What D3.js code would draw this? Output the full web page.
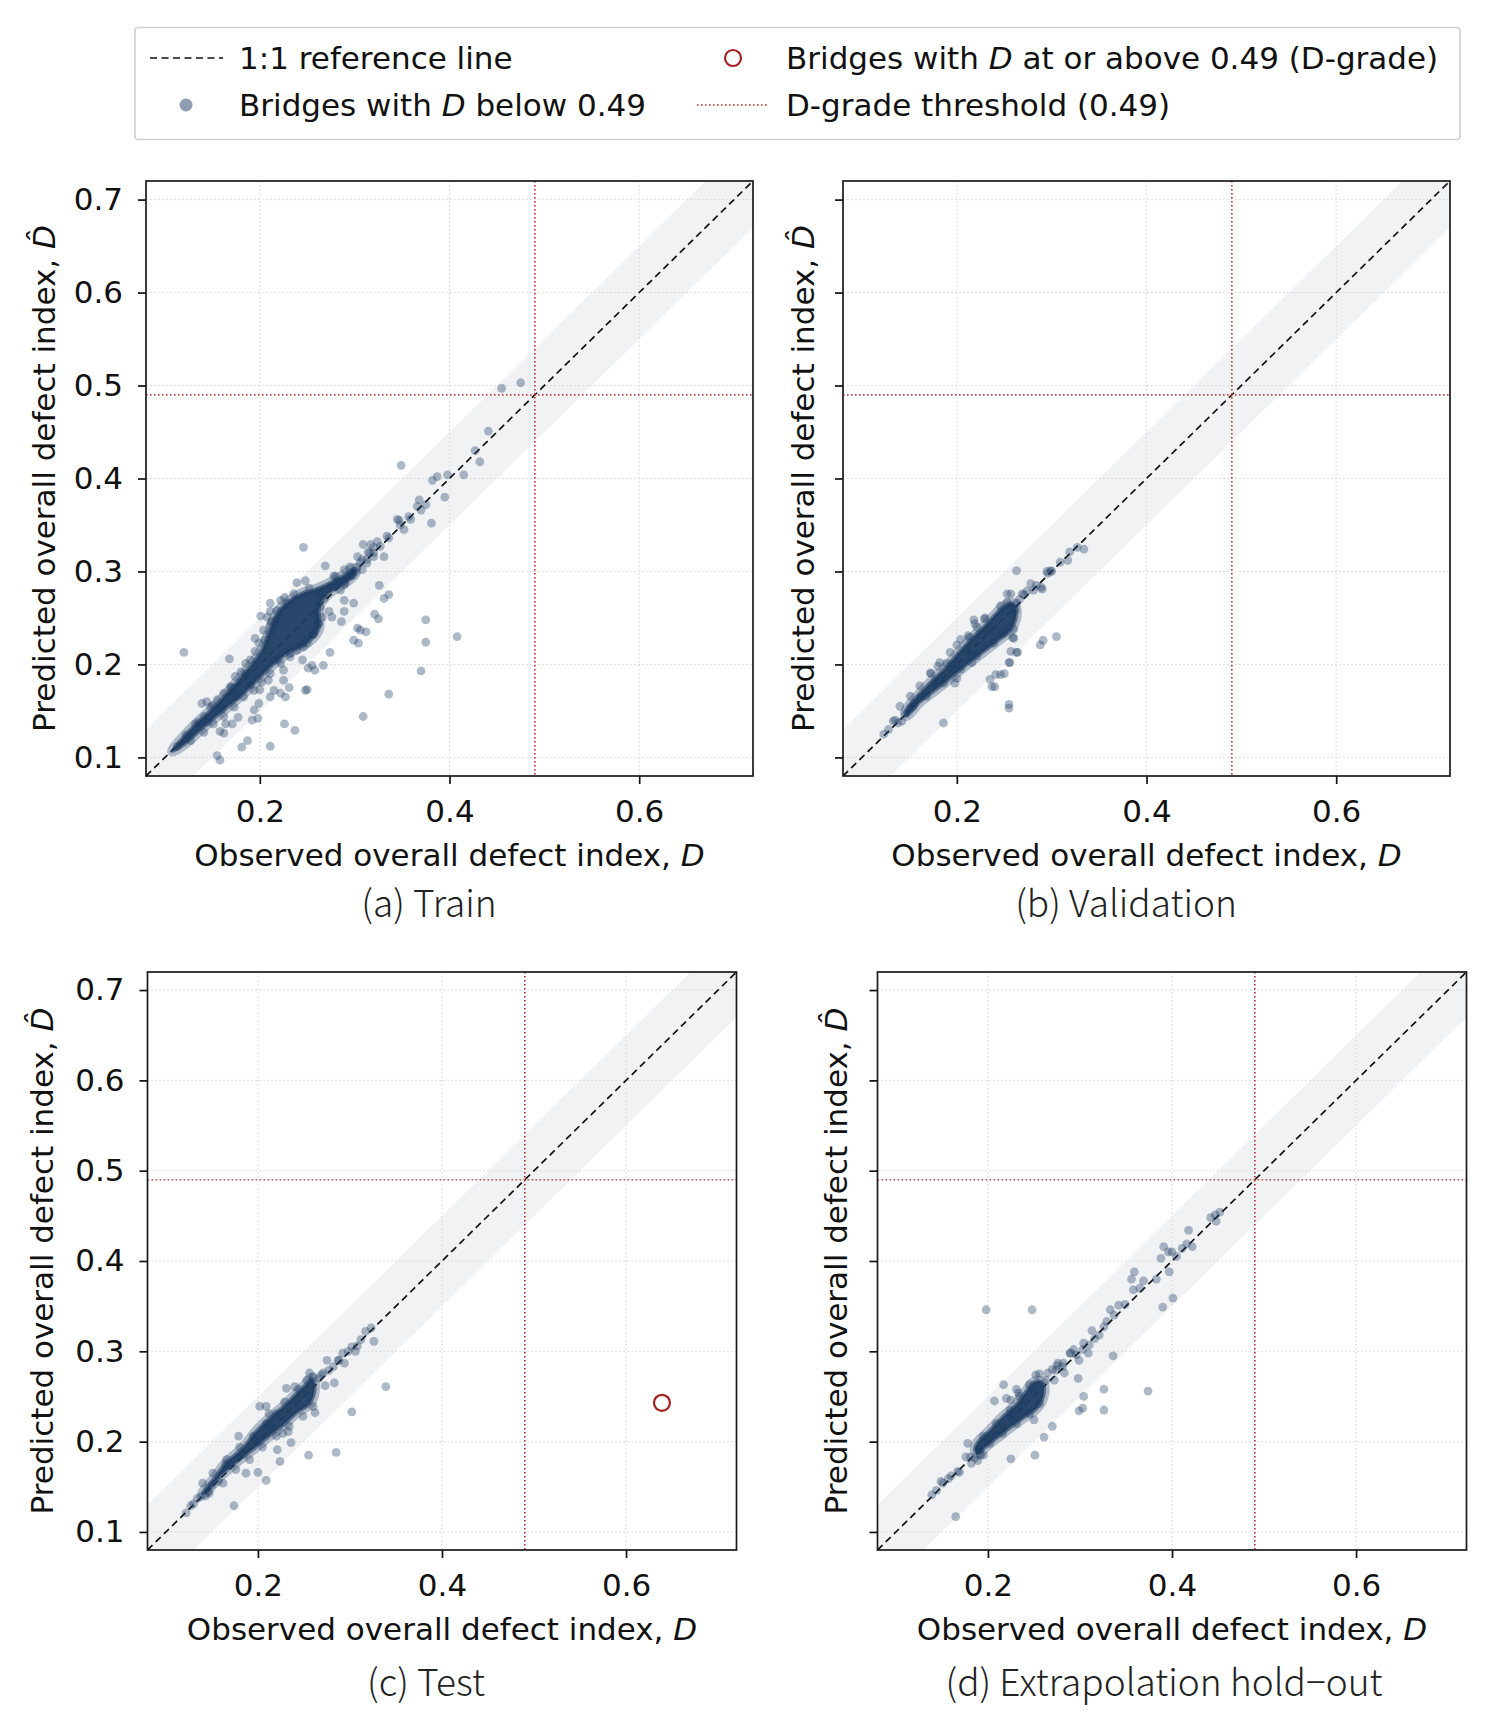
<!DOCTYPE html>
<html>
<head>
<meta charset="utf-8">
<script src="https://cdn.jsdelivr.net/npm/d3@7"></script>
<style>
  body { margin: 0; background: #fff; }
  svg { display: block; }
</style>
</head>
<body>
<svg id="chart" width="1486" height="1721"></svg>
<script>
// ---- data ----------------------------------------------------------
var axisLimits = [0.08, 0.72];
var xTicks = [0.2, 0.4, 0.6];
var yTicks = [0.1, 0.2, 0.3, 0.4, 0.5, 0.6, 0.7];
var threshold = 0.49;        // D-grade threshold
var bandHalfWidth = 0.05;    // shaded tolerance band round the 1:1 line
var panelTitles = ["(a) Train", "(b) Validation", "(c) Test", "(d) Extrapolation hold\u2212out"];

// [observed D, predicted D-hat], individual bridges that can be told apart
var trainPts = [
  [0.455,0.497],[0.475,0.503],[0.441,0.451],[0.427,0.430],[0.432,0.418],[0.415,0.404],
  [0.398,0.404],[0.387,0.402],[0.382,0.398],[0.395,0.380],[0.381,0.352],[0.349,0.414],
  [0.370,0.366],[0.375,0.372],[0.366,0.370],[0.347,0.355],[0.336,0.336],[0.324,0.332],
  [0.320,0.326],[0.314,0.321],[0.308,0.313],[0.345,0.356],[0.352,0.345],[0.357,0.359],
  [0.368,0.377],[0.359,0.356],[0.348,0.350],[0.334,0.338],[0.327,0.327],[0.320,0.316],
  [0.313,0.313],[0.303,0.305],[0.331,0.316],[0.309,0.329],[0.326,0.285],
  [0.331,0.271],[0.336,0.275],[0.321,0.254],[0.325,0.249],[0.299,0.266],[0.303,0.239],
  [0.306,0.237],[0.312,0.235],[0.299,0.226],[0.304,0.223],[0.375,0.248],[0.375,0.224],
  [0.408,0.230],[0.370,0.193],[0.336,0.168],[0.309,0.144],[0.274,0.213],[0.267,0.199],
  [0.268,0.271],[0.273,0.257],[0.276,0.251],[0.286,0.246],[0.289,0.257],[0.289,0.269],
  [0.246,0.326],[0.269,0.306],[0.239,0.288],[0.248,0.290],[0.222,0.269],[0.229,0.266],
  [0.201,0.252],[0.211,0.242],[0.210,0.233],[0.195,0.228],[0.168,0.206],[0.120,0.213],
  [0.246,0.219],[0.245,0.205],[0.251,0.196],[0.255,0.199],[0.258,0.194],[0.248,0.172],
  [0.225,0.194],[0.225,0.183],[0.231,0.175],[0.222,0.169],[0.227,0.165],[0.209,0.183],
  [0.200,0.173],[0.199,0.158],[0.194,0.151],[0.211,0.165],[0.215,0.172],[0.177,0.143],
  [0.171,0.136],[0.164,0.136],[0.158,0.128],[0.162,0.126],[0.187,0.118],[0.181,0.111],
  [0.211,0.112],[0.226,0.136],[0.237,0.129],[0.155,0.102],[0.158,0.097],[0.139,0.158],
  [0.144,0.160],[0.192,0.140],[0.198,0.142],[0.250,0.173],
  [0.205,0.226],[0.212,0.246],[0.218,0.258],[0.226,0.272],[0.236,0.276],[0.252,0.282],
  [0.262,0.278],[0.264,0.262],[0.262,0.244],[0.256,0.232],[0.245,0.222],[0.232,0.212],
  [0.218,0.205],[0.185,0.190],[0.170,0.175],[0.150,0.156],[0.135,0.138],[0.122,0.124],
  [0.113,0.112],[0.190,0.178],[0.175,0.165],[0.160,0.152],[0.145,0.138],[0.280,0.295],
  [0.290,0.288],[0.295,0.305],[0.285,0.280],[0.298,0.296],[0.306,0.310],[0.316,0.320],
  [0.211,0.266],[0.208,0.251],[0.211,0.257],[0.217,0.248],[0.204,0.237],[0.199,0.223],
  [0.195,0.214],[0.190,0.205],[0.185,0.201],[0.180,0.192],[0.174,0.187],[0.169,0.176],
  [0.162,0.169],[0.155,0.162],[0.148,0.154],[0.141,0.144],[0.132,0.136],
  [0.222,0.201],[0.232,0.208],[0.239,0.215],[0.250,0.223],[0.257,0.233],[0.262,0.244],
  [0.266,0.251],[0.211,0.190],[0.202,0.181],[0.194,0.172],[0.183,0.165],[0.173,0.154],
  [0.162,0.144],[0.151,0.136],[0.141,0.127],[0.127,0.118],
  [0.275,0.284],[0.282,0.289],[0.289,0.286],[0.296,0.295],[0.301,0.300],[0.308,0.302],
  [0.313,0.309],[0.320,0.320],[0.317,0.329],[0.303,0.316],[0.289,0.302],[0.278,0.295]
];
// outline of the dense cluster where single markers merge
var trainCore = [
  [0.108,0.107],[0.127,0.130],[0.151,0.153],[0.176,0.181],[0.194,0.203],[0.203,0.217],
  [0.211,0.237],[0.219,0.256],[0.231,0.268],[0.246,0.277],[0.257,0.280],[0.271,0.286],
  [0.289,0.296],[0.299,0.303],[0.301,0.299],[0.290,0.288],[0.273,0.277],[0.263,0.264],
  [0.262,0.238],[0.254,0.227],[0.243,0.219],[0.229,0.212],[0.215,0.201],[0.201,0.187],
  [0.183,0.169],[0.162,0.151],[0.141,0.133],[0.120,0.114]
];

var validPts = [
  [0.263,0.301],[0.295,0.300],[0.299,0.301],[0.319,0.321],[0.327,0.326],[0.334,0.324],
  [0.317,0.312],[0.309,0.310],[0.300,0.300],[0.296,0.298],[0.289,0.283],[0.278,0.287],
  [0.281,0.280],[0.271,0.275],[0.284,0.285],[0.290,0.281],[0.274,0.279],[0.269,0.276],
  [0.253,0.276],[0.257,0.276],[0.305,0.230],[0.291,0.226],[0.288,0.221],[0.264,0.213],
  [0.257,0.214],[0.259,0.229],[0.256,0.202],[0.241,0.189],[0.250,0.190],[0.235,0.184],
  [0.240,0.176],[0.246,0.189],[0.255,0.157],[0.255,0.153],[0.186,0.137],[0.200,0.221],
  [0.189,0.201],[0.213,0.229],[0.218,0.248],[0.229,0.249],[0.219,0.244],[0.221,0.240],
  [0.212,0.231],[0.180,0.198],[0.173,0.190],[0.135,0.140],[0.142,0.139],[0.123,0.125],
  [0.133,0.139],[0.151,0.153],[0.260,0.238],[0.260,0.228],[0.263,0.213],[0.255,0.202],
  [0.237,0.176],[0.216,0.202],[0.200,0.185],[0.198,0.180],[0.263,0.266],[0.266,0.270],
  [0.146,0.147],[0.155,0.158],[0.162,0.165],[0.138,0.137],[0.128,0.130],
  [0.204,0.227],[0.193,0.213],[0.182,0.202],[0.172,0.191],[0.161,0.177],[0.151,0.166],
  [0.140,0.155],[0.221,0.209],[0.239,0.223],[0.249,0.234],[0.204,0.195],[0.186,0.180],
  [0.168,0.166],[0.154,0.155],[0.246,0.263],[0.253,0.267],[0.262,0.259],[0.230,0.250],
  [0.225,0.232],[0.234,0.236],[0.212,0.213],[0.195,0.200],[0.178,0.182]
];
var validCore = [
  [0.146,0.149],[0.168,0.176],[0.189,0.197],[0.204,0.215],[0.218,0.230],[0.232,0.244],
  [0.242,0.255],[0.249,0.262],[0.258,0.266],[0.262,0.261],[0.262,0.249],[0.255,0.235],
  [0.246,0.228],[0.232,0.217],[0.214,0.203],[0.196,0.188],[0.179,0.174],[0.161,0.160],
  [0.147,0.145]
];

var testPts = [
  [0.339,0.261],[0.302,0.233],[0.285,0.188],[0.255,0.185],[0.326,0.311],[0.317,0.322],
  [0.323,0.326],[0.308,0.306],[0.302,0.305],[0.306,0.300],[0.292,0.298],[0.287,0.290],
  [0.294,0.287],[0.282,0.283],[0.275,0.290],[0.271,0.276],[0.283,0.265],[0.273,0.262],
  [0.256,0.276],[0.269,0.274],[0.231,0.259],[0.240,0.261],[0.260,0.239],[0.262,0.232],
  [0.224,0.178],[0.202,0.239],[0.209,0.239],[0.212,0.231],[0.179,0.206],[0.236,0.199],
  [0.233,0.211],[0.227,0.209],[0.221,0.191],[0.187,0.165],[0.200,0.166],[0.209,0.157],
  [0.165,0.175],[0.174,0.129],[0.127,0.129],[0.134,0.137],[0.143,0.140],[0.288,0.290],
  [0.122,0.121],[0.130,0.131],[0.138,0.139],[0.146,0.145],[0.150,0.152],[0.157,0.156],
  [0.298,0.300],[0.312,0.313],[0.277,0.279],[0.266,0.270],
  [0.220,0.231],[0.209,0.220],[0.195,0.206],[0.180,0.194],[0.166,0.180],[0.151,0.165],
  [0.140,0.154],[0.249,0.228],[0.234,0.217],[0.220,0.206],[0.205,0.194],[0.191,0.180],
  [0.176,0.169],[0.162,0.154],[0.147,0.143],[0.253,0.268],[0.260,0.272],[0.244,0.258],
  [0.229,0.244],[0.215,0.218],[0.198,0.200],[0.184,0.186]
];
var testCore = [
  [0.140,0.143],[0.151,0.157],[0.166,0.177],[0.184,0.193],[0.198,0.211],[0.213,0.226],
  [0.227,0.238],[0.242,0.253],[0.253,0.264],[0.258,0.270],[0.261,0.266],[0.261,0.254],
  [0.256,0.242],[0.242,0.232],[0.227,0.218],[0.213,0.207],[0.195,0.192],[0.176,0.177],
  [0.158,0.161],[0.145,0.146]
];
var testDGrade = [[0.639,0.243]];

var extrapPts = [
  [0.198,0.346],[0.248,0.346],[0.374,0.256],[0.326,0.235],[0.326,0.258],[0.304,0.250],
  [0.303,0.237],[0.299,0.234],[0.298,0.270],[0.336,0.295],[0.270,0.217],[0.261,0.205],
  [0.251,0.185],[0.225,0.181],[0.165,0.117],[0.390,0.349],[0.401,0.359],[0.447,0.451],
  [0.452,0.454],[0.442,0.448],[0.448,0.444],[0.418,0.434],[0.422,0.416],[0.416,0.419],
  [0.411,0.414],[0.405,0.405],[0.400,0.410],[0.396,0.410],[0.391,0.416],[0.388,0.403],
  [0.397,0.388],[0.383,0.380],[0.359,0.388],[0.356,0.380],[0.358,0.368],[0.369,0.378],
  [0.365,0.370],[0.342,0.351],[0.333,0.346],[0.326,0.327],[0.313,0.323],[0.304,0.309],
  [0.293,0.302],[0.290,0.298],[0.282,0.287],[0.275,0.284],[0.270,0.280],[0.217,0.263],
  [0.207,0.245],[0.220,0.248],[0.231,0.258],[0.233,0.254],[0.225,0.246],[0.252,0.274],
  [0.256,0.275],[0.263,0.268],[0.265,0.276],[0.272,0.268],[0.274,0.279],[0.276,0.287],
  [0.281,0.283],[0.283,0.276],[0.289,0.298],[0.296,0.296],[0.299,0.290],[0.303,0.302],
  [0.309,0.298],[0.310,0.307],[0.316,0.314],[0.321,0.318],[0.250,0.224],[0.186,0.182],
  [0.178,0.198],[0.176,0.183],[0.182,0.176],[0.189,0.179],[0.195,0.185],[0.167,0.167],
  [0.160,0.162],[0.151,0.154],[0.144,0.146],[0.139,0.141],[0.181,0.183],[0.192,0.185],
  [0.157,0.159],[0.169,0.166],[0.149,0.156],[0.329,0.333],[0.337,0.340],[0.349,0.352],
  [0.195,0.206],[0.209,0.220],[0.224,0.235],[0.234,0.250],[0.245,0.263],[0.256,0.242],
  [0.245,0.231],[0.231,0.220],[0.216,0.209],[0.202,0.198],[0.191,0.191],[0.238,0.240],
  [0.228,0.230],[0.250,0.255]
];
var extrapCore = [
  [0.186,0.191],[0.189,0.199],[0.202,0.212],[0.216,0.227],[0.231,0.241],[0.242,0.256],
  [0.249,0.265],[0.256,0.267],[0.260,0.264],[0.260,0.250],[0.252,0.236],[0.242,0.229],
  [0.227,0.218],[0.213,0.207],[0.198,0.195],[0.189,0.187]
];

// ---- layout --------------------------------------------------------
var navy = "#1f3d63", red = "#bf2a2a", ringRed = "#a81f1f";
var tickFont = "'DejaVu Sans', sans-serif";
var titleFont = "'Noto Sans CJK KR', 'Noto Sans', sans-serif";

var panels = [
  {title: panelTitles[0], pts: trainPts,  core: trainCore,  ring: [],         left: 146,   top: 181, w: 607, h: 595, yLabels: true,  yLabX: 44,  titleX: 429,  titleY: 917},
  {title: panelTitles[1], pts: validPts,  core: validCore,  ring: [],         left: 843,   top: 181, w: 607, h: 595, yLabels: false, yLabX: 803, titleX: 1126, titleY: 917},
  {title: panelTitles[2], pts: testPts,   core: testCore,   ring: testDGrade, left: 147.5, top: 972, w: 589, h: 578, yLabels: true,  yLabX: 42,  titleX: 426,  titleY: 1696},
  {title: panelTitles[3], pts: extrapPts, core: extrapCore, ring: [],         left: 877.5, top: 972, w: 589, h: 578, yLabels: false, yLabX: 836, titleX: 1164, titleY: 1696}
];

var svg = d3.select("#chart");
svg.append("rect").attr("width", 1486).attr("height", 1721).attr("fill", "#fff");
var defs = svg.append("defs");

panels.forEach(function (p, i) {
  var x = d3.scaleLinear().domain(axisLimits).range([0, p.w]);
  var y = d3.scaleLinear().domain(axisLimits).range([p.h, 0]);

  var g = svg.append("g").attr("transform", "translate(" + p.left + "," + p.top + ")");

  defs.append("clipPath").attr("id", "clip" + i)
    .append("rect").attr("width", p.w).attr("height", p.h);
  var plot = g.append("g").attr("clip-path", "url(#clip" + i + ")");

  // tolerance band
  var lo = axisLimits[0] - 0.1, hi = axisLimits[1] + 0.1;
  var band = [[lo, lo + bandHalfWidth], [hi, hi + bandHalfWidth], [hi, hi - bandHalfWidth], [lo, lo - bandHalfWidth]];
  plot.append("path")
    .attr("d", d3.line().x(function (d) { return x(d[0]); }).y(function (d) { return y(d[1]); })(band) + "Z")
    .attr("fill", "#f1f2f4");

  // grid
  plot.selectAll(".gx").data(xTicks).enter().append("line")
    .attr("x1", function (d) { return x(d); }).attr("x2", function (d) { return x(d); })
    .attr("y1", 0).attr("y2", p.h)
    .attr("stroke", "#d4d4d4").attr("stroke-width", 1).attr("stroke-dasharray", "1.5,2.5");
  plot.selectAll(".gy").data(yTicks).enter().append("line")
    .attr("y1", function (d) { return y(d); }).attr("y2", function (d) { return y(d); })
    .attr("x1", 0).attr("x2", p.w)
    .attr("stroke", "#d4d4d4").attr("stroke-width", 1).attr("stroke-dasharray", "1.5,2.5");

  // 1:1 line
  plot.append("line")
    .attr("x1", x(axisLimits[0])).attr("y1", y(axisLimits[0]))
    .attr("x2", x(axisLimits[1])).attr("y2", y(axisLimits[1]))
    .attr("stroke", "#111").attr("stroke-width", 1.7).attr("stroke-dasharray", "7,4.5");

  // D-grade threshold
  plot.append("line")
    .attr("x1", x(threshold)).attr("x2", x(threshold)).attr("y1", 0).attr("y2", p.h)
    .attr("stroke", red).attr("stroke-width", 1.6).attr("stroke-dasharray", "1.6,2.4");
  plot.append("line")
    .attr("y1", y(threshold)).attr("y2", y(threshold)).attr("x1", 0).attr("x2", p.w)
    .attr("stroke", red).attr("stroke-width", 1.6).attr("stroke-dasharray", "1.6,2.4")
    .attr("stroke-opacity", 0.85);

  // dense cluster: soft halo, then solid body
  var corePath = d3.line().curve(d3.curveCatmullRomClosed)
    .x(function (d) { return x(d[0]); }).y(function (d) { return y(d[1]); })(p.core);
  plot.append("path").attr("d", corePath)
    .attr("fill", "none").attr("stroke", navy).attr("stroke-opacity", 0.3)
    .attr("stroke-width", 11).attr("stroke-linejoin", "round");
  plot.append("path").attr("d", corePath)
    .attr("fill", navy).attr("fill-opacity", 0.95)
    .attr("stroke", navy).attr("stroke-opacity", 0.6).attr("stroke-width", 4)
    .attr("stroke-linejoin", "round");

  plot.selectAll(".pt").data(p.pts).enter().append("circle")
    .attr("cx", function (d) { return x(d[0]); })
    .attr("cy", function (d) { return y(d[1]); })
    .attr("r", 4.4)
    .attr("fill", navy).attr("fill-opacity", 0.36);

  plot.selectAll(".ring").data(p.ring).enter().append("circle")
    .attr("cx", function (d) { return x(d[0]); })
    .attr("cy", function (d) { return y(d[1]); })
    .attr("r", 8)
    .attr("fill", "none").attr("stroke", ringRed).attr("stroke-width", 2.2);

  // axes
  var xAxis = g.append("g").attr("transform", "translate(0," + p.h + ")")
    .call(d3.axisBottom(x).tickValues(xTicks).tickFormat(d3.format(".1f")).tickSize(8).tickPadding(16));
  var yAxis = g.append("g")
    .call(d3.axisLeft(y).tickValues(yTicks)
      .tickFormat(p.yLabels ? d3.format(".1f") : function () { return ""; })
      .tickSize(8).tickPadding(15));
  [xAxis, yAxis].forEach(function (a) {
    a.select(".domain").remove();
    a.selectAll(".tick line").attr("stroke", "#111").attr("stroke-width", 1.7);
    a.selectAll(".tick text").attr("fill", "#111")
      .style("font-family", tickFont).style("font-size", "31px");
  });

  g.append("rect").attr("width", p.w).attr("height", p.h)
    .attr("fill", "none").attr("stroke", "#1a1a1a").attr("stroke-width", 1.7);

  // axis labels
  var xl = g.append("text")
    .attr("x", p.w / 2).attr("y", p.h + 90)
    .attr("text-anchor", "middle")
    .style("font-family", tickFont).style("font-size", "31px").attr("fill", "#111");
  xl.append("tspan").text("Observed overall defect index, ");
  xl.append("tspan").attr("font-style", "italic").text("D");

  var yl = svg.append("text")
    .attr("transform", "translate(" + p.yLabX + "," + (p.top + p.h / 2) + ") rotate(-90)")
    .attr("text-anchor", "middle").attr("dy", "0.35em")
    .style("font-family", tickFont).style("font-size", "31px").attr("fill", "#111");
  yl.append("tspan").text("Predicted overall defect index, ");
  yl.append("tspan").attr("font-style", "italic").text("D\u0302");

  svg.append("text")
    .attr("x", p.titleX).attr("y", p.titleY)
    .attr("text-anchor", "middle")
    .style("font-family", titleFont).style("font-size", "37px").style("font-weight", 300)
    .attr("fill", "#222")
    .text(p.title);
});

// ---- legend --------------------------------------------------------
var leg = svg.append("g");
leg.append("rect").attr("x", 135).attr("y", 27.5).attr("width", 1325).attr("height", 112)
  .attr("rx", 3).attr("fill", "#fff").attr("stroke", "#cfcfcf").attr("stroke-width", 1.6);

var legItems = [
  {kind: "dash", cx: 186, cy: 58,  label: ["1:1 reference line"]},
  {kind: "dot",  cx: 186, cy: 105, label: ["Bridges with ", "D", " below 0.49"]},
  {kind: "ring", cx: 733, cy: 58,  label: ["Bridges with ", "D", " at or above 0.49 (D-grade)"]},
  {kind: "dots", cx: 733, cy: 105, label: ["D-grade threshold (0.49)"]}
];
legItems.forEach(function (it) {
  if (it.kind === "dash") {
    leg.append("line").attr("x1", it.cx - 36).attr("x2", it.cx + 37).attr("y1", it.cy).attr("y2", it.cy)
      .attr("stroke", "#111").attr("stroke-width", 1.7).attr("stroke-dasharray", "7,4.5");
  } else if (it.kind === "dots") {
    leg.append("line").attr("x1", it.cx - 36).attr("x2", it.cx + 36).attr("y1", it.cy).attr("y2", it.cy)
      .attr("stroke", red).attr("stroke-width", 1.6).attr("stroke-dasharray", "1.6,2.4");
  } else if (it.kind === "dot") {
    leg.append("circle").attr("cx", it.cx).attr("cy", it.cy).attr("r", 6.5)
      .attr("fill", navy).attr("fill-opacity", 0.5);
  } else {
    leg.append("circle").attr("cx", it.cx).attr("cy", it.cy).attr("r", 8)
      .attr("fill", "none").attr("stroke", ringRed).attr("stroke-width", 2.2);
  }
  var t = leg.append("text").attr("x", it.cx + 53).attr("y", it.cy).attr("dy", "0.36em")
    .style("font-family", tickFont).style("font-size", "31px").attr("fill", "#111");
  it.label.forEach(function (s, k) {
    var ts = t.append("tspan").text(s);
    if (s === "D" && k === 1) ts.attr("font-style", "italic");
  });
});
</script>
</body>
</html>
